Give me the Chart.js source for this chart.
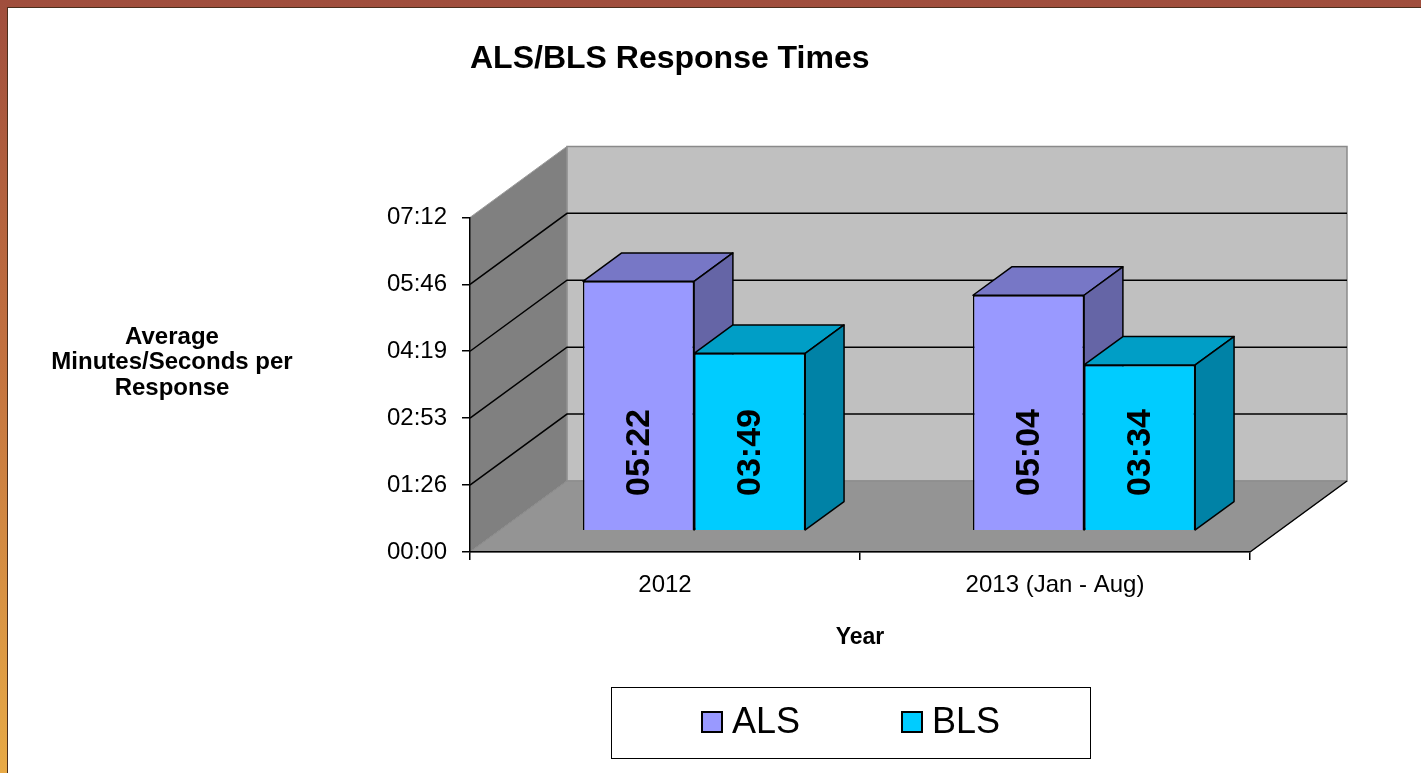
<!DOCTYPE html>
<html>
<head>
<meta charset="utf-8">
<title>ALS/BLS Response Times</title>
<script src="https://cdn.jsdelivr.net/npm/chart.js@4.4.1/dist/chart.umd.min.js"></script>
<style>
html,body{margin:0;padding:0}
body{width:1421px;height:773px;overflow:hidden;background:linear-gradient(to bottom,#a04e3d 0%,#c2703f 45%,#e8aa46 100%)}
#frame{position:absolute;left:7px;top:7px;width:1414px;height:766px;box-sizing:border-box;background:#fff;border-left:1px solid #4b2e1c;border-top:1px solid #4b2e1c}
#frame canvas{display:block}
</style>
</head>
<body>
<div id="frame"><canvas id="myChart" width="1413" height="765"></canvas></div>
<script>
// data (seconds per response)
const categories=['2012','2013 (Jan - Aug)'];
const seriesNames=['ALS','BLS'];
const alsSeconds=[322,304];   // 05:22, 05:04
const blsSeconds=[229,214];   // 03:49, 03:34
const yTickValues=[0,86.4,172.8,259.2,345.6,432];
const yTickLabels=['00:00','01:26','02:53','04:19','05:46','07:12'];
const yTitleLines=['Average','Minutes/Seconds per','Response'];

const faces=[
    {front:'#9999ff',top:'#7777c6',side:'#6565a6'},
    {front:'#00ccff',top:'#009ec6',side:'#0082a6'},
];
const DEPTH=[97,-71];   // depth of the 3d box in px
const BAR_FRONT=0.3, BAR_BACK=0.7;
const FONT="'Liberation Sans', Arial, sans-serif";

Chart.defaults.font.family=FONT;
Chart.defaults.color='#000';

function mmss(sec){
    const s=Math.round(sec);
    return String(Math.floor(s/60)).padStart(2,'0')+':'+String(s%60).padStart(2,'0');
}

function poly(ctx,pts,fill,stroke,lw){
    ctx.beginPath();
    ctx.moveTo(pts[0][0],pts[0][1]);
    for(let i=1;i<pts.length;i++) ctx.lineTo(pts[i][0],pts[i][1]);
    ctx.closePath();
    if(fill){ctx.fillStyle=fill;ctx.fill();}
    if(stroke){ctx.strokeStyle=stroke;ctx.lineWidth=lw||1;ctx.stroke();}
}

// walls, floor and grid lines behind everything
const walls={
    id:'walls',
    beforeDraw(chart){
        const ctx=chart.ctx, xs=chart.scales.x, ys=chart.scales.y;
        const x0=xs.left, x1=xs.right;
        const yb=ys.getPixelForValue(0), yt=ys.getPixelForValue(yTickValues[yTickValues.length-1]);
        const [dx,dy]=DEPTH;
        ctx.save();
        poly(ctx,[[x0+dx,yt+dy],[x1+dx,yt+dy],[x1+dx,yb+dy],[x0+dx,yb+dy]],'#c0c0c0','#8a8a8a',1.5);
        poly(ctx,[[x0,yb],[x0,yt],[x0+dx,yt+dy],[x0+dx,yb+dy]],'#808080','#9a9a9a',1);
        poly(ctx,[[x0,yb],[x1,yb],[x1+dx,yb+dy],[x0+dx,yb+dy]],'#949494','#8a8a8a',1);
        ctx.strokeStyle='#000';
        ctx.lineWidth=1.5;
        yTickValues.slice(1,-1).forEach(v=>{
            const y=ys.getPixelForValue(v);
            ctx.beginPath();
            ctx.moveTo(x0,y);
            ctx.lineTo(x0+dx,y+dy);
            ctx.lineTo(x1+dx,y+dy);
            ctx.stroke();
        });
        ctx.beginPath();
        ctx.moveTo(x1,yb);
        ctx.lineTo(x1+dx,yb+dy);
        ctx.stroke();
        ctx.restore();
    }
};

// bars pushed into the box, drawn left series first, with top / side faces + value labels
const bars3d={
    id:'bars3d',
    beforeDatasetsDraw(chart){
        const ctx=chart.ctx;
        const bx=DEPTH[0]*(BAR_BACK-BAR_FRONT), by=DEPTH[1]*(BAR_BACK-BAR_FRONT);
        ctx.save();
        ctx.translate(DEPTH[0]*BAR_FRONT,DEPTH[1]*BAR_FRONT);
        chart.data.datasets.forEach((ds,di)=>{
            const meta=chart.getDatasetMeta(di), c=faces[di];
            meta.data.forEach((bar,i)=>{
                bar.draw(ctx);
                const {x,y,base,width}=bar.getProps(['x','y','base','width'],true);
                const l=x-width/2, r=x+width/2;
                ctx.lineJoin='round';
                poly(ctx,[[l,y],[l+bx,y+by],[r+bx,y+by],[r,y]],c.top,'#000',1.5);
                poly(ctx,[[r,y],[r+bx,y+by],[r+bx,base+by],[r,base]],c.side,'#000',1.5);
                ctx.save();
                ctx.translate(x,base-34);
                ctx.rotate(-Math.PI/2);
                ctx.font='bold 34px '+FONT;
                ctx.fillStyle='#000';
                ctx.textAlign='left';
                ctx.textBaseline='middle';
                ctx.fillText(mmss(ds.data[i]),0,1);
                ctx.restore();
            });
        });
        ctx.restore();
        return false;
    }
};

// horizontal y title and boxed legend
const extras={
    id:'extras',
    afterDraw(chart){
        const ctx=chart.ctx;
        ctx.save();
        ctx.fillStyle='#000';
        ctx.font='bold 24px '+FONT;
        ctx.textAlign='center';
        ctx.textBaseline='middle';
        yTitleLines.forEach((t,i)=>ctx.fillText(t,164,329+i*25.5));

        ctx.strokeStyle='#000';
        ctx.lineWidth=1;
        ctx.strokeRect(603.5,679.5,479,71);
        ctx.font='36px '+FONT;
        ctx.textAlign='left';
        chart.data.datasets.forEach((ds,i)=>{
            const lx=694+i*200;
            ctx.fillStyle=ds.backgroundColor;
            ctx.fillRect(lx,704,20,20);
            ctx.lineWidth=2;
            ctx.strokeRect(lx,704,20,20);
            ctx.fillStyle='#000';
            ctx.fillText(ds.label,lx+30,715);
        });
        ctx.restore();
    }
};

const ctx=document.getElementById('myChart').getContext('2d');
const chart=new Chart(ctx,{
    type:'bar',
    data:{
        labels:categories,
        datasets:[
            {label:seriesNames[0],data:alsSeconds,backgroundColor:faces[0].front,borderColor:'#000',borderWidth:1.5},
            {label:seriesNames[1],data:blsSeconds,backgroundColor:faces[1].front,borderColor:'#000',borderWidth:1.5},
        ],
    },
    options:{
        responsive:false,
        animation:false,
        categoryPercentage:0.57,
        barPercentage:1,
        layout:{padding:{left:362,right:171,top:0,bottom:110}},
        plugins:{
            legend:{display:false},
            tooltip:{enabled:false},
            title:{
                display:true,
                text:'ALS/BLS Response Times',
                align:'start',
                fullSize:false,
                font:{size:32,weight:'bold'},
                color:'#000',
                padding:{top:32,bottom:139},
            },
        },
        scales:{
            x:{
                grid:{display:true,drawOnChartArea:false,drawTicks:true,tickLength:8,color:'#000',lineWidth:1.5},
                border:{display:true,color:'#000',width:1.5},
                ticks:{font:{size:24},color:'#000',padding:11},
                title:{display:true,text:'Year',font:{size:23,weight:'bold'},color:'#000',padding:{top:0,bottom:12}},
                afterFit(scale){scale.height=111;},
            },
            y:{
                min:0,
                max:432,
                grid:{display:true,drawOnChartArea:false,drawTicks:true,tickLength:8,color:'#000',lineWidth:1.5},
                border:{display:true,color:'#000',width:1.5},
                afterBuildTicks(scale){scale.ticks=yTickValues.map(v=>({value:v}));},
                ticks:{font:{size:24},color:'#000',padding:15,callback:(v,i)=>yTickLabels[i]},
                afterFit(scale){scale.width=100;},
            },
        },
    },
    plugins:[walls,bars3d,extras],
});
</script>
</body>
</html>
